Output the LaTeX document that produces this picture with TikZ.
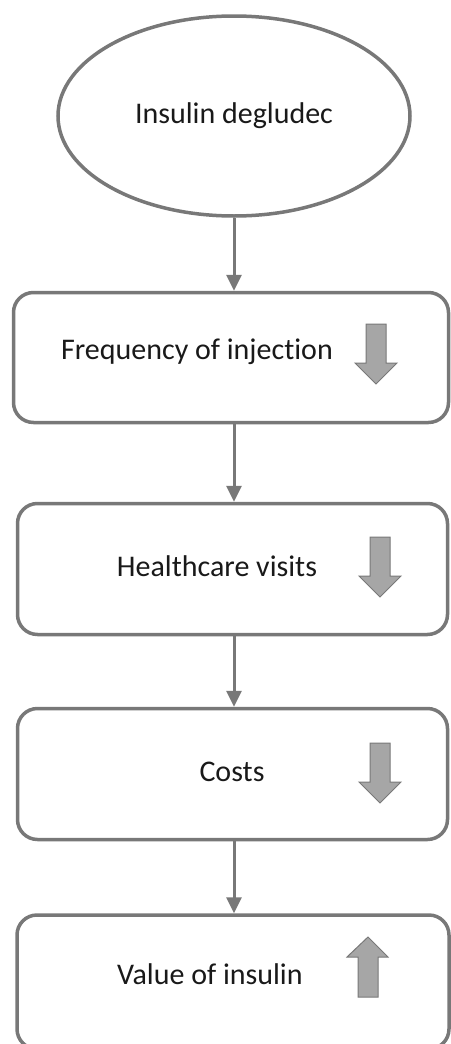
\documentclass[tikz,border=0pt]{standalone}
\usepackage{fontspec}
\setmainfont[Ligatures=NoCommon]{Carlito}
\usetikzlibrary{arrows.meta,shapes.geometric}
\definecolor{linegray}{RGB}{120,120,120}
\definecolor{arrowgray}{RGB}{166,166,166}
\tikzset{
	stepbox/.style={draw=linegray,line width=3.5pt,rounded corners=20pt,inner sep=0pt},
	startnode/.style={draw=linegray,line width=3.5pt,ellipse,inner sep=0pt,minimum width=352pt,minimum height=200pt},
	flow/.style={draw=linegray,line width=3pt,-{Triangle[width=15pt,length=16pt]}},
	blockarrow/.style={draw=linegray,fill=arrowgray,line width=1pt},
	boxtext/.style={font=\fontsize{30}{36}\selectfont,text=black!90}
}
\begin{document}
\begin{tikzpicture}[x=1pt,y=-1pt]
\useasboundingbox (0,0) rectangle (450,1044);
\node[startnode] (deg) at (234,116) {};
\node[boxtext] (degtext) at (234,116) {Insulin degludec};
\node[stepbox,minimum width=435pt,minimum height=130pt] (freq) at (231,357.5) {};
\node[stepbox,minimum width=430pt,minimum height=131pt] (health) at (232.5,569) {};
\node[stepbox,minimum width=430pt,minimum height=131pt] (cost) at (232.5,774) {};
\node[stepbox,minimum width=432pt,minimum height=134pt] (value) at (233,982) {};
\node[boxtext] (freqtext) at (197,352) {Frequency of injection};
\node[boxtext] (healthtext) at (217,566) {Healthcare visits};
\node[boxtext] (costtext) at (232,772) {Costs};
\node[boxtext] (valuetext) at (210,974) {Value of insulin};
\foreach \cx/\ty in {376/324,380/537,380/743}
	\draw[blockarrow] (\cx-10,\ty) -- ++(20,0) -- ++(0,39) -- ++(11,0) -- (\cx,\ty+60) -- (\cx-21,\ty+39) -- ++(11,0) -- cycle;
\draw[blockarrow] (358,997) -- ++(20,0) -- ++(0,-40) -- ++(10,0) -- (368,937) -- (347,957) -- ++(11,0) -- cycle;
\draw[flow] (deg.south) -- (deg.south |- freq.north);
\draw[flow] (deg.south |- freq.south) -- (deg.south |- health.north);
\draw[flow] (deg.south |- health.south) -- (deg.south |- cost.north);
\draw[flow] (deg.south |- cost.south) -- (deg.south |- value.north);
\end{tikzpicture}
\end{document}
